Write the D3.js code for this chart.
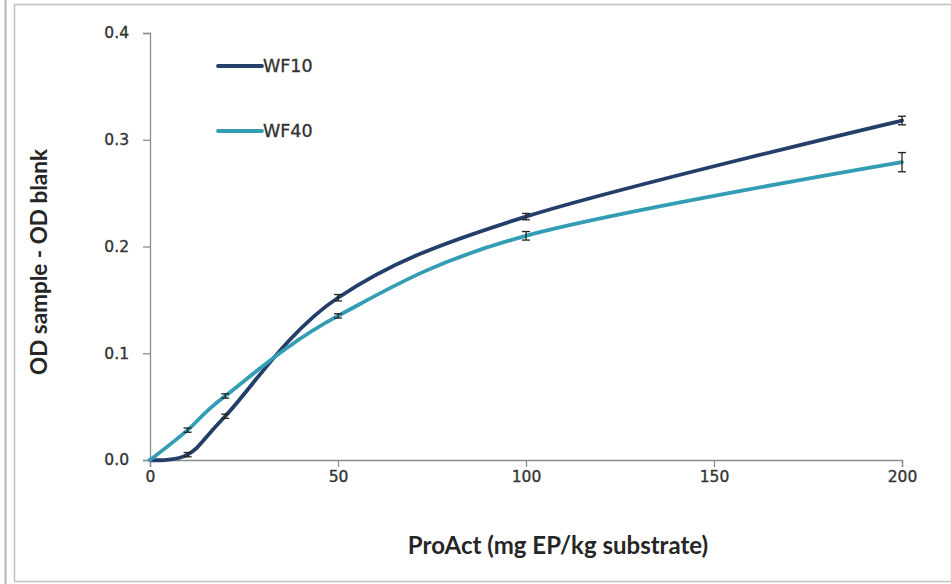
<!DOCTYPE html>
<html><head><meta charset="utf-8">
<script src="https://cdn.jsdelivr.net/npm/d3@7"></script>
<style>body{margin:0;background:#fff}svg{display:block}</style>
</head><body>
<script>
const doses = [0, 10, 20, 50, 100, 200];
const wf10 = [0, 0.005, 0.041, 0.152, 0.228, 0.318];
const wf10Err = [0, 0.002, 0.002, 0.003, 0.003, 0.004];
const wf40 = [0, 0.028, 0.060, 0.135, 0.210, 0.279];
const wf40Err = [0, 0.002, 0.002, 0.002, 0.004, 0.009];
const xTicks = [0, 50, 100, 150, 200];
const yTicks = [0, 0.1, 0.2, 0.3, 0.4];
const seriesNames = ["WF10", "WF40"];
const colors = ["#233f69", "#339db5"];

const W = 951, H = 584;
const svg = d3.select("body").append("svg").attr("width", W).attr("height", H);

// frame
svg.append("line").attr("x1",5.5).attr("x2",5.5).attr("y1",0).attr("y2",H).attr("stroke","#b8b8b8").attr("stroke-width",2);
svg.append("rect").attr("x",14.5).attr("y",4.5).attr("width",W-14).attr("height",577).attr("fill","none").attr("stroke","#c0c0c0").attr("stroke-width",1.5);

const x = d3.scaleLinear().domain([0,200]).range([150,902]);
const y = d3.scaleLinear().domain([0,0.4]).range([460,33]);

const xAxis = svg.append("g").attr("transform","translate(0,460)")
  .call(d3.axisBottom(x).tickValues(xTicks).tickSize(7).tickFormat(d3.format("d")));
const yAxis = svg.append("g").attr("transform","translate(150,0)")
  .call(d3.axisLeft(y).tickValues(yTicks).tickSize(7).tickFormat(d3.format(".1f")));
[xAxis,yAxis].forEach(g=>{
  g.select(".domain").attr("stroke","#8c8c8c").attr("stroke-width",1.3);
  g.selectAll(".tick line").attr("stroke","#8c8c8c").attr("stroke-width",1.3);
  g.selectAll(".tick text").attr("fill","#333").attr("stroke","#333").attr("stroke-width",0.35)
    .style("font-family","'DejaVu Sans', sans-serif").style("font-size","15.5px");
});
xAxis.selectAll(".tick text").attr("y",10).attr("dy","0.8em");
yAxis.selectAll(".tick text").attr("x",-21);

const series = [
  {name: seriesNames[0], vals: wf10, err: wf10Err, color: colors[0]},
  {name: seriesNames[1], vals: wf40, err: wf40Err, color: colors[1]}
];

const line = d3.line().x(d=>x(d[0])).y(d=>y(d[1])).curve(d3.curveCardinal.tension(0));

series.forEach(s=>{
  const pts = doses.map((d,i)=>[d, s.vals[i]]);
  svg.append("path").datum(pts).attr("d", line).attr("fill","none")
    .attr("stroke", s.color).attr("stroke-width",3.8).attr("stroke-linecap","round");
});
// error bars on top
series.forEach(s=>{
  doses.forEach((d,i)=>{
    if (s.err[i] <= 0) return;
    const cx = x(d), y1 = y(s.vals[i]-s.err[i]), y2 = y(s.vals[i]+s.err[i]);
    const g = svg.append("g").attr("stroke","#222").attr("stroke-width",1.3);
    g.append("line").attr("x1",cx).attr("x2",cx).attr("y1",y1).attr("y2",y2);
    g.append("line").attr("x1",cx-4).attr("x2",cx+4).attr("y1",y1).attr("y2",y1);
    g.append("line").attr("x1",cx-4).attr("x2",cx+4).attr("y1",y2).attr("y2",y2);
  });
});

// legend
const legY = [66, 131];
series.forEach((s,i)=>{
  svg.append("line").attr("x1",218).attr("x2",262).attr("y1",legY[i]).attr("y2",legY[i])
    .attr("stroke",s.color).attr("stroke-width",3.8).attr("stroke-linecap","round");
  svg.append("text").attr("x",263).attr("y",legY[i]+6).text(s.name)
    .attr("fill","#333").attr("stroke","#333").attr("stroke-width",0.35)
    .style("font-family","'DejaVu Sans', sans-serif").style("font-size","17.5px");
});

// axis titles
svg.append("text").attr("x",558).attr("y",554).attr("text-anchor","middle")
  .text("ProAct (mg EP/kg substrate)").attr("fill","#262626")
  .style("font-family","Lato, sans-serif").style("font-weight","bold").style("font-size","24px");
svg.append("text").attr("transform","translate(47,262) rotate(-90)").attr("text-anchor","middle")
  .text("OD sample - OD blank").attr("fill","#262626")
  .style("font-family","Lato, sans-serif").style("font-weight","bold").style("font-size","22.5px");
</script>
</body></html>
